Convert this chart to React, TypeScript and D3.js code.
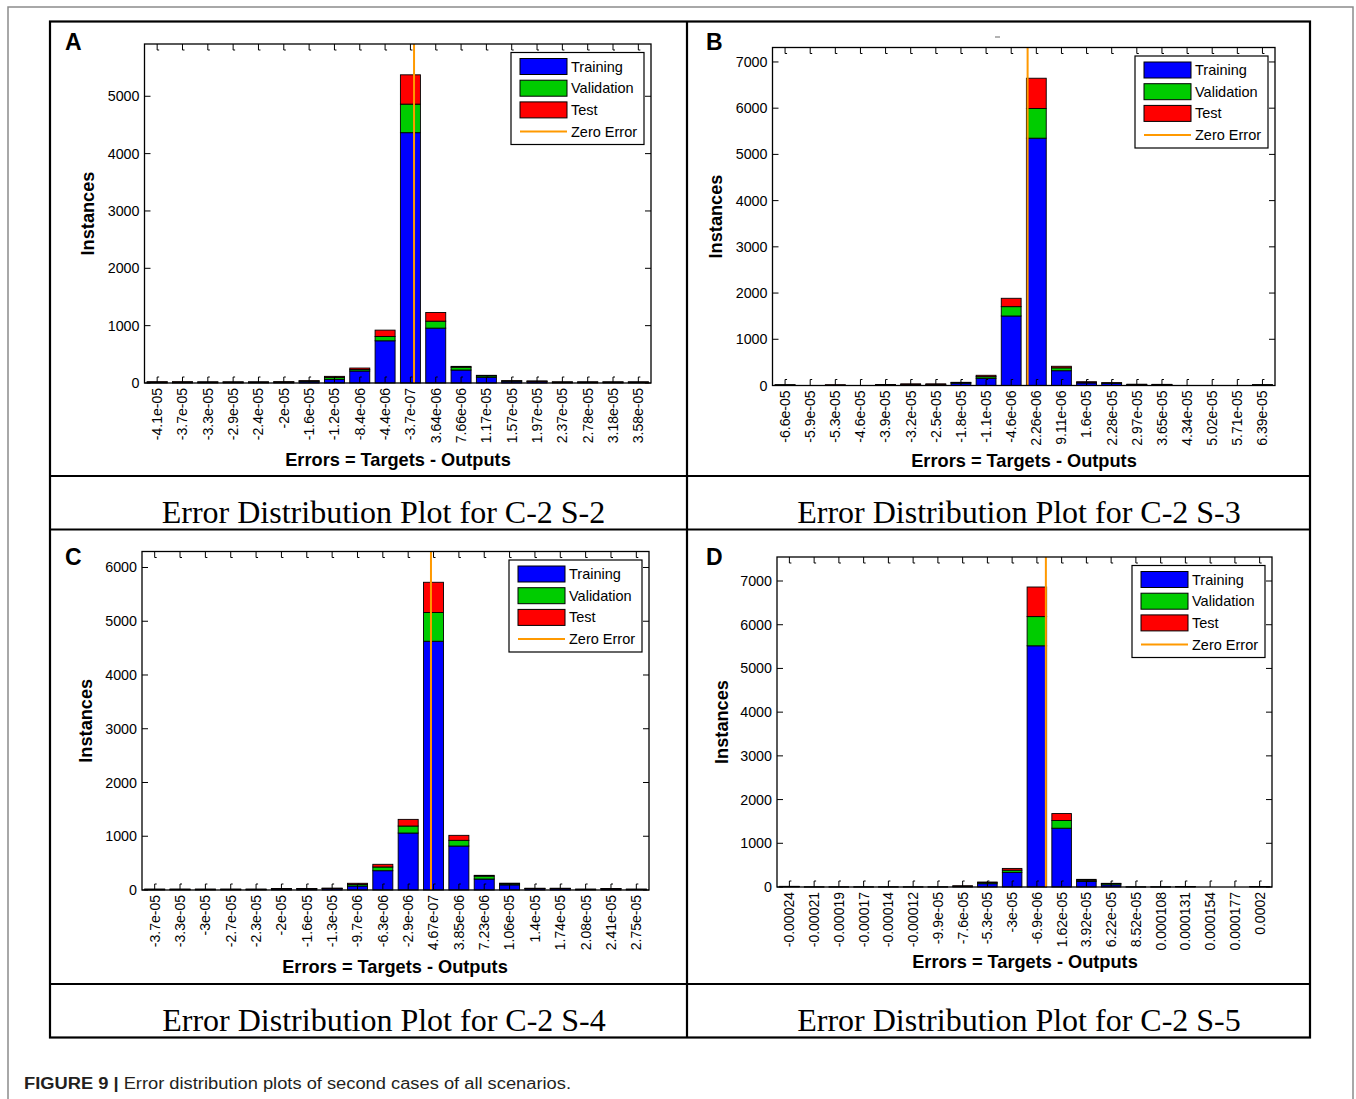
import React from 'react';
import * as d3 from 'd3';

const SANS = '"Liberation Sans", Arial, Helvetica, sans-serif';
const SERIF = '"Liberation Serif", "Times New Roman", serif';

// ---------- DATA ----------
const labelsA = ["-4.1e-05","-3.7e-05","-3.3e-05","-2.9e-05","-2.4e-05","-2e-05","-1.6e-05","-1.2e-05","-8.4e-06","-4.4e-06","-3.7e-07","3.64e-06","7.66e-06","1.17e-05","1.57e-05","1.97e-05","2.37e-05","2.78e-05","3.18e-05","3.58e-05"];
const trainA = [16,16,15,15,15,16,30,64,209,736,4365,957,226,99,32,28,15,15,15,15];
const valA   = [2,2,2,2,2,3,6,34,25,76,498,121,50,25,5,4,2,2,2,2];
const testA  = [2,2,1,1,1,2,4,18,27,110,511,152,14,10,3,3,1,1,1,1];
const yTicksA = [0,1000,2000,3000,4000,5000];

const labelsB = ["-6.6e-05","-5.9e-05","-5.3e-05","-4.6e-05","-3.9e-05","-3.2e-05","-2.5e-05","-1.8e-05","-1.1e-05","-4.6e-06","2.26e-06","9.11e-06","1.6e-05","2.28e-05","2.97e-05","3.65e-05","4.34e-05","5.02e-05","5.71e-05","6.39e-05"];
const trainB = [8,0,6,0,14,22,22,50,156,1504,5351,320,55,48,20,18,0,0,0,10];
const valB   = [6,0,2,0,3,5,5,12,35,202,643,62,12,8,4,4,0,0,0,5];
const testB  = [1,0,7,0,3,8,8,7,30,181,654,34,15,5,3,3,0,0,0,1];
const yTicksB = [0,1000,2000,3000,4000,5000,6000,7000];

const labelsC = ["-3.7e-05","-3.3e-05","-3e-05","-2.7e-05","-2.3e-05","-2e-05","-1.6e-05","-1.3e-05","-9.7e-06","-6.3e-06","-2.9e-06","4.67e-07","3.85e-06","7.23e-06","1.06e-05","1.4e-05","1.74e-05","2.08e-05","2.41e-05","2.75e-05"];
const trainC = [12,12,12,12,12,20,20,26,74,359,1060,4628,818,204,95,26,26,12,20,12];
const valC   = [2,2,2,2,2,4,4,5,30,69,130,534,106,55,20,4,4,2,4,2];
const testC  = [1,1,1,1,1,2,2,3,21,50,124,563,93,14,12,2,2,1,2,1];
const yTicksC = [0,1000,2000,3000,4000,5000,6000];

const labelsD = ["-0.00024","-0.00021","-0.00019","-0.00017","-0.00014","-0.00012","-9.9e-05","-7.6e-05","-5.3e-05","-3e-05","-6.9e-06","1.62e-05","3.92e-05","6.22e-05","8.52e-05","0.000108","0.000131","0.000154","0.000177","0.0002"];
const trainD = [10,2,2,2,2,2,2,18,76,335,5518,1345,125,50,2,2,8,0,0,8];
const valD   = [3,1,1,1,1,1,1,4,28,50,668,176,30,28,1,1,2,0,0,2];
const testD  = [2,0,0,0,0,0,0,3,10,40,677,159,20,6,0,0,2,0,0,2];
const yTicksD = [0,1000,2000,3000,4000,5000,6000,7000];

const seriesNames = ["Training", "Validation", "Test"];
const seriesColors = ["#0000ff", "#00cc00", "#ff0000"];
const zeroName = "Zero Error";
const zeroColor = "#ff9900";
const xTitle = "Errors = Targets - Outputs";
const yTitle = "Instances";
const titles = ["Error Distribution Plot for C-2 S-2", "Error Distribution Plot for C-2 S-3", "Error Distribution Plot for C-2 S-4", "Error Distribution Plot for C-2 S-5"];
const captionBold = "FIGURE 9 |";
const captionText = " Error distribution plots of second cases of all scenarios.";

// ---------- LAYOUT ----------
type PanelProps = {
  letter: string;
  labels: string[];
  train: number[];
  val: number[];
  test: number[];
  yTicks: number[];
  x0: number; x1: number; y0: number; y1: number;
  letterX: number; letterY: number;
  yTitleX: number; xTitleX: number; xTitleY: number;
};

function Panel(p: PanelProps) {
  const n = p.labels.length;
  const centers0 = p.labels.map((l) => +l);
  const first = centers0[0];
  const last = centers0[n - 1];
  const w = (last - first) / (n - 1);
  const centers = d3.range(n).map((i) => first + i * w);
  const x = d3.scaleLinear().domain([first - w / 2, last + w / 2]).range([p.x0, p.x1]);
  const totals = centers.map((_, i) => p.train[i] + p.val[i] + p.test[i]);
  const ymax = (d3.max(totals) as number) * 1.1;
  const y = d3.scaleLinear().domain([0, ymax]).range([p.y1, p.y0]);
  const bw = x(first + w * 0.79) - x(first);
  const stacks = [p.train, p.val, p.test];

  const legW = 133, legH = 92;
  const lx = p.x1 - 7 - legW;
  const ly = p.y0 + 8.5;
  const rowY = (i: number) => ly + 14 + i * 21.7;

  return (
    <g>
      <text x={p.letterX} y={p.letterY} fontFamily={SANS} fontWeight="bold" fontSize={23}>{p.letter}</text>
      {centers.map((c, i) => {
        let base = 0;
        return (
          <g key={i}>
            {stacks.map((s, k) => {
              const v = s[i];
              const b = base;
              base += v;
              if (v <= 0) return null;
              return (
                <rect key={k} x={x(c) - bw / 2} y={y(b + v)} width={bw} height={Math.max(0, y(b) - y(b + v))}
                  fill={seriesColors[k]} stroke="#000" strokeWidth={0.9} />
              );
            })}
          </g>
        );
      })}
      <line x1={x(0)} x2={x(0)} y1={p.y0} y2={p.y1} stroke={zeroColor} strokeWidth={2} />
      <rect x={p.x0} y={p.y0} width={p.x1 - p.x0} height={p.y1 - p.y0} fill="none" stroke="#000" strokeWidth={1.3} />
      {centers.map((c, i) => (
        <g key={'xt' + i}>
          <path d={`M${x(c)},${p.y1} v-6 h2`} fill="none" stroke="#000" strokeWidth={1} />
          <path d={`M${x(c)},${p.y0} v6 h2`} fill="none" stroke="#000" strokeWidth={1} />
          <text transform={`translate(${x(c)},${p.y1 + 5}) rotate(-90)`} textAnchor="end" dy="0.35em"
            fontFamily={SANS} fontSize={14}>{p.labels[i]}</text>
        </g>
      ))}
      {p.yTicks.map((t) => (
        <g key={'yt' + t}>
          <line x1={p.x0} x2={p.x0 + 6} y1={y(t)} y2={y(t)} stroke="#000" strokeWidth={1} />
          <line x1={p.x1} x2={p.x1 - 6} y1={y(t)} y2={y(t)} stroke="#000" strokeWidth={1} />
          <text x={p.x0 - 5} y={y(t)} dy="0.35em" textAnchor="end" fontFamily={SANS} fontSize={14.3}>{t}</text>
        </g>
      ))}
      <text x={p.xTitleX} y={p.xTitleY} textAnchor="middle" fontFamily={SANS} fontWeight="bold" fontSize={18.2}>{xTitle}</text>
      <text transform={`translate(${p.yTitleX},${(p.y0 + p.y1) / 2}) rotate(-90)`} textAnchor="middle" dy="0.35em"
        fontFamily={SANS} fontWeight="bold" fontSize={18.2}>{yTitle}</text>
      <rect x={lx} y={ly} width={legW} height={legH} fill="#fff" stroke="#000" strokeWidth={1.2} />
      {seriesNames.map((name, i) => (
        <g key={name}>
          <rect x={lx + 9} y={rowY(i) - 8} width={47} height={16} fill={seriesColors[i]} stroke="#000" strokeWidth={1} />
          <text x={lx + 60} y={rowY(i)} dy="0.35em" fontFamily={SANS} fontSize={14.5}>{name}</text>
        </g>
      ))}
      <line x1={lx + 9} x2={lx + 56} y1={rowY(3)} y2={rowY(3)} stroke={zeroColor} strokeWidth={2} />
      <text x={lx + 60} y={rowY(3)} dy="0.35em" fontFamily={SANS} fontSize={14.5}>{zeroName}</text>
    </g>
  );
}

export default function App() {
  return (
    <svg width={1356} height={1099} style={{ position: 'absolute', left: 0, top: 0, background: '#fff' }}>
      <rect x={0} y={0} width={1356} height={1099} fill="#fff" />
      <path d="M8,1099 V7 H1353 V1099" fill="none" stroke="#8c8c8c" strokeWidth={1.5} />
      <rect x={50} y={21.5} width={1260} height={1016} fill="none" stroke="#000" strokeWidth={2.2} />
      <line x1={687} x2={687} y1={21.5} y2={1037.5} stroke="#000" strokeWidth={2.2} />
      <line x1={50} x2={1310} y1={476} y2={476} stroke="#000" strokeWidth={2.2} />
      <line x1={50} x2={1310} y1={529.5} y2={529.5} stroke="#000" strokeWidth={2.2} />
      <line x1={50} x2={1310} y1={984} y2={984} stroke="#000" strokeWidth={2.2} />

      <Panel letter="A" labels={labelsA} train={trainA} val={valA} test={testA} yTicks={yTicksA}
        x0={144.5} x1={651} y0={44} y1={383} letterX={65} letterY={50}
        yTitleX={88} xTitleX={398} xTitleY={466} />
      <Panel letter="B" labels={labelsB} train={trainB} val={valB} test={testB} yTicks={yTicksB}
        x0={772.5} x1={1275} y0={47.5} y1={385.5} letterX={706} letterY={50}
        yTitleX={716} xTitleX={1024} xTitleY={467} />
      <Panel letter="C" labels={labelsC} train={trainC} val={valC} test={testC} yTicks={yTicksC}
        x0={142} x1={649} y0={551.5} y1={890} letterX={65} letterY={565}
        yTitleX={86} xTitleX={395} xTitleY={973} />
      <Panel letter="D" labels={labelsD} train={trainD} val={valD} test={testD} yTicks={yTicksD}
        x0={777} x1={1272} y0={557} y1={887} letterX={706} letterY={565}
        yTitleX={722} xTitleX={1025} xTitleY={968} />

      <line x1={995} x2={1000} y1={37} y2={37} stroke="#666" strokeWidth={1} />

      <text x={383.5} y={523} textAnchor="middle" fontFamily={SERIF} fontSize={32}>{titles[0]}</text>
      <text x={1019} y={523} textAnchor="middle" fontFamily={SERIF} fontSize={32}>{titles[1]}</text>
      <text x={384} y={1031} textAnchor="middle" fontFamily={SERIF} fontSize={32}>{titles[2]}</text>
      <text x={1019} y={1031} textAnchor="middle" fontFamily={SERIF} fontSize={32}>{titles[3]}</text>

      <text x={24} y={1089} fontFamily={SANS} fontSize={16} fill="#231f20" textLength={547} lengthAdjust="spacingAndGlyphs">
        <tspan fontWeight="bold">{captionBold}</tspan>
        <tspan>{captionText}</tspan>
      </text>
    </svg>
  );
}
